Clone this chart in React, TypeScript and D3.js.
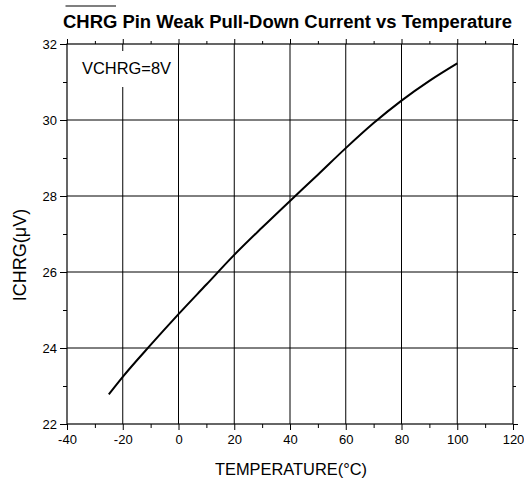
import React, { useEffect, useRef } from 'react';
import * as d3 from 'd3';

const temperatures = [-25, -20, -10, 0, 10, 20, 30, 40, 50, 60, 70, 80, 90, 100];
const currents = [22.78, 23.24, 24.08, 24.89, 25.67, 26.45, 27.17, 27.87, 28.56, 29.26, 29.92, 30.51, 31.03, 31.49];

const xMajorTicks = [-40, -20, 0, 20, 40, 60, 80, 100, 120];
const xMinorTicks = [-30, -10, 10, 30, 50, 70, 90, 110];
const yMajorTicks = [22, 24, 26, 28, 30, 32];
const yMinorTicks = [23, 25, 27, 29, 31];

const App: React.FC = () => {
  const svgRef = useRef<SVGSVGElement>(null);

  useEffect(() => {
    if (!svgRef.current) return;
    const width = 524;
    const height = 482;
    const margin = { top: 44, right: 11, bottom: 58, left: 67 };

    const svg = d3.select(svgRef.current);
    svg.selectAll('*').remove();

    const x = d3.scaleLinear().domain([-40, 120]).range([margin.left, width - margin.right]);
    const y = d3.scaleLinear().domain([22, 32]).range([height - margin.bottom, margin.top]);
    const font = 'Liberation Sans, Arial, sans-serif';

    // Grid
    const grid = svg.append('g').attr('stroke', '#000').attr('stroke-width', 1);
    grid.selectAll('line.v')
      .data(xMajorTicks.slice(1, -1))
      .join('line')
      .attr('class', 'v')
      .attr('x1', d => x(d)).attr('x2', d => x(d))
      .attr('y1', y(22)).attr('y2', y(32));
    grid.selectAll('line.h')
      .data(yMajorTicks.slice(1, -1))
      .join('line')
      .attr('class', 'h')
      .attr('x1', x(-40)).attr('x2', x(120))
      .attr('y1', d => y(d)).attr('y2', d => y(d));

    // Axes: ticks outward, majors longer
    const styleAxis = (g: d3.Selection<SVGGElement, unknown, null, undefined>) => {
      g.select('.domain').remove();
      g.selectAll('line').attr('stroke', '#000');
      g.selectAll('text').style('font-family', font).style('font-size', '13px').attr('fill', '#000');
    };
    const fmt = (d: d3.NumberValue) => String(d);
    const blank = () => '';

    svg.append('g')
      .attr('transform', `translate(0,${y(22)})`)
      .call(d3.axisBottom(x).tickValues(xMajorTicks).tickSize(6).tickPadding(5).tickFormat(fmt))
      .call(styleAxis);
    svg.append('g')
      .attr('transform', `translate(0,${y(22)})`)
      .call(d3.axisBottom(x).tickValues(xMinorTicks).tickSize(4).tickFormat(blank))
      .call(styleAxis);
    svg.append('g')
      .attr('transform', `translate(0,${y(32)})`)
      .call(d3.axisTop(x).tickValues(xMajorTicks).tickSize(5).tickFormat(blank))
      .call(styleAxis);
    svg.append('g')
      .attr('transform', `translate(0,${y(32)})`)
      .call(d3.axisTop(x).tickValues(xMinorTicks).tickSize(3).tickFormat(blank))
      .call(styleAxis);

    svg.append('g')
      .attr('transform', `translate(${x(-40)},0)`)
      .call(d3.axisLeft(y).tickValues(yMajorTicks).tickSize(7).tickPadding(3).tickFormat(fmt))
      .call(styleAxis);
    svg.append('g')
      .attr('transform', `translate(${x(-40)},0)`)
      .call(d3.axisLeft(y).tickValues(yMinorTicks).tickSize(4).tickFormat(blank))
      .call(styleAxis);
    svg.append('g')
      .attr('transform', `translate(${x(120)},0)`)
      .call(d3.axisRight(y).tickValues(yMajorTicks).tickSize(5).tickFormat(blank))
      .call(styleAxis);
    svg.append('g')
      .attr('transform', `translate(${x(120)},0)`)
      .call(d3.axisRight(y).tickValues(yMinorTicks).tickSize(3).tickFormat(blank))
      .call(styleAxis);

    // Label box masks the grid line behind the annotation
    svg.append('rect')
      .attr('x', x(-40) + 3).attr('y', 51)
      .attr('width', 106).attr('height', 36)
      .attr('fill', '#fff');
    svg.append('text')
      .attr('x', 82).attr('y', 73.5)
      .style('font-family', font).style('font-size', '16px')
      .attr('textLength', 89).attr('lengthAdjust', 'spacingAndGlyphs')
      .text('VCHRG=8V');

    // Frame
    svg.append('rect')
      .attr('x', x(-40)).attr('y', y(32))
      .attr('width', x(120) - x(-40)).attr('height', y(22) - y(32))
      .attr('fill', 'none').attr('stroke', '#000').attr('stroke-width', 1.2);

    // Curve
    const line = d3.line<number>()
      .x((_, i) => x(temperatures[i]))
      .y(d => y(d))
      .curve(d3.curveMonotoneX);
    svg.append('path')
      .datum(currents)
      .attr('d', line)
      .attr('fill', 'none')
      .attr('stroke', '#000')
      .attr('stroke-width', 2);

    // Title with overline on CHRG
    svg.append('text')
      .attr('x', 63).attr('y', 28)
      .attr('textLength', 449)
      .attr('lengthAdjust', 'spacingAndGlyphs')
      .style('font-family', font).style('font-size', '18px').style('font-weight', 'bold')
      .text('CHRG Pin Weak Pull-Down Current vs Temperature');
    svg.append('line')
      .attr('x1', 65.5).attr('x2', 116)
      .attr('y1', 6).attr('y2', 6)
      .attr('stroke', '#000').attr('stroke-width', 1.2);

    // Axis titles
    svg.append('text')
      .attr('x', 291).attr('y', 475)
      .attr('text-anchor', 'middle')
      .attr('textLength', 152).attr('lengthAdjust', 'spacingAndGlyphs')
      .style('font-family', font).style('font-size', '16px')
      .text('TEMPERATURE(°C)');
    svg.append('text')
      .attr('transform', `translate(26,255) rotate(-90)`)
      .attr('text-anchor', 'middle')
      .style('font-family', font).style('font-size', '18px')
      .text('ICHRG(μV)');
  }, []);

  return (
    <svg ref={svgRef} width={524} height={482}
      style={{ position: 'absolute', left: 0, top: 0, background: '#fff' }} />
  );
};

export default App;
